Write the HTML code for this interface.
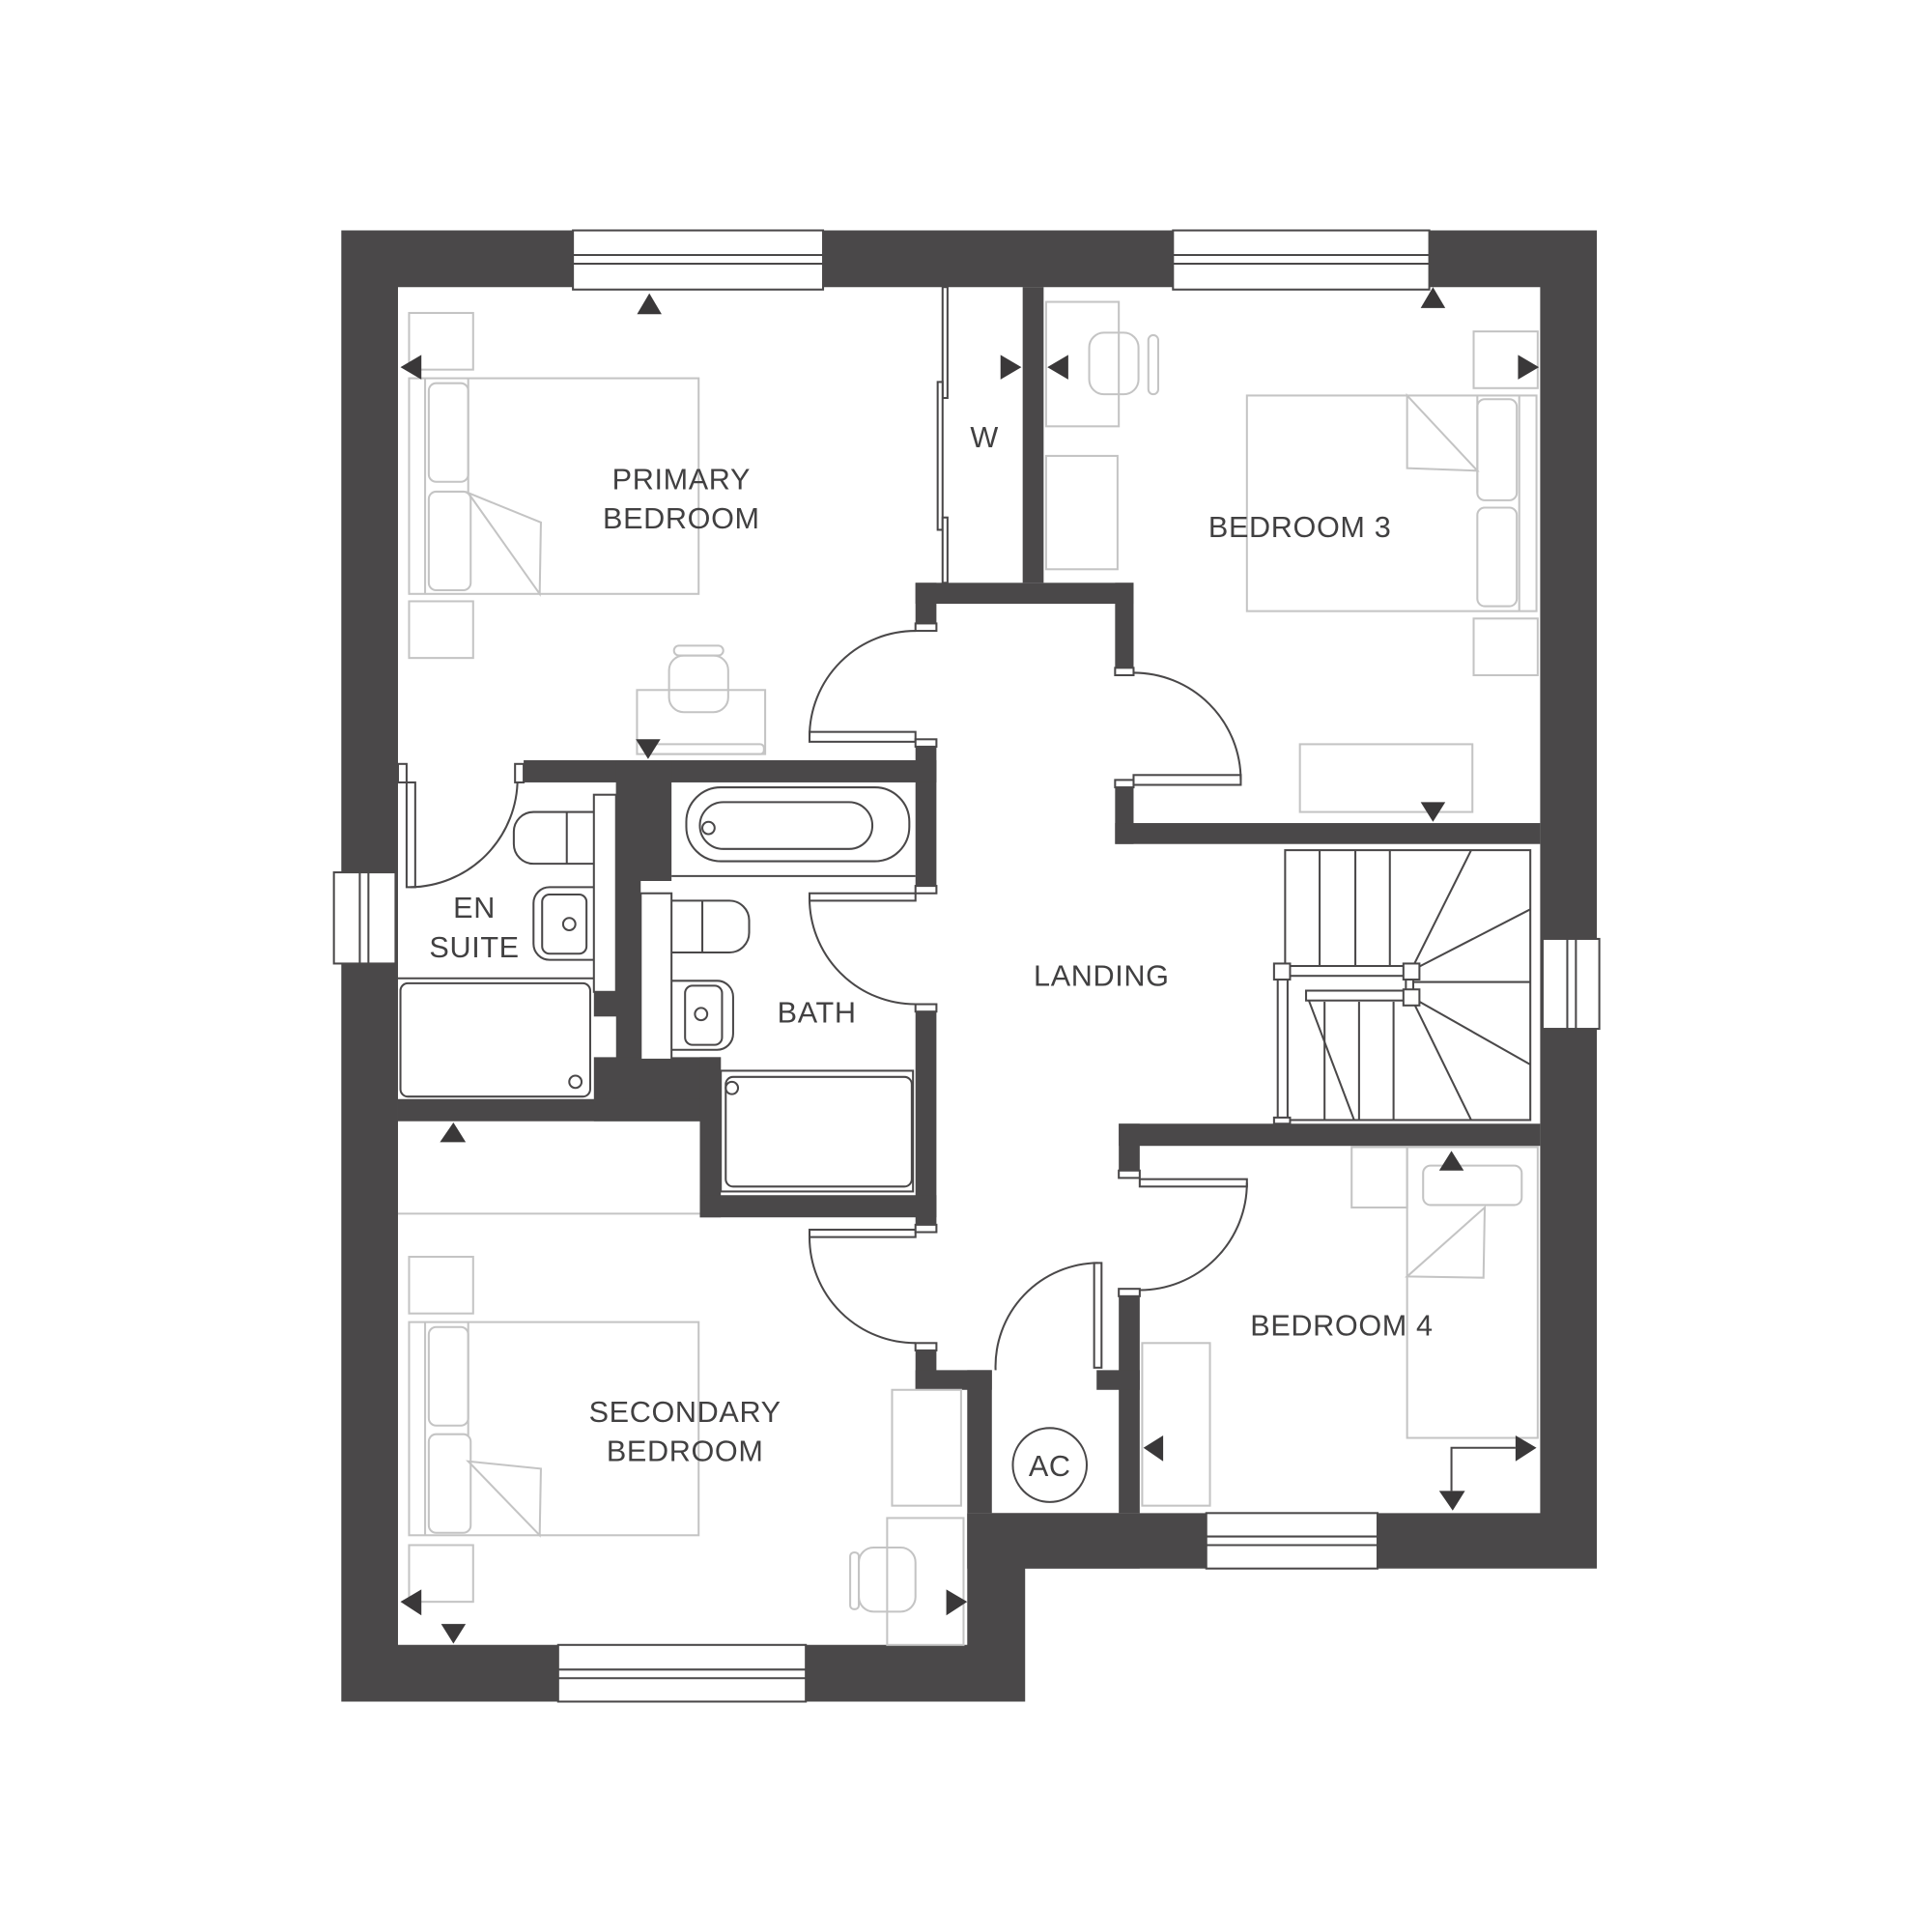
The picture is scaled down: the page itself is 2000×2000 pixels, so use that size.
<!DOCTYPE html>
<html><head><meta charset="utf-8"><style>
html,body{margin:0;padding:0;background:#fff}
svg{display:block}
text{font-family:"Liberation Sans",sans-serif;font-size:24px;fill:#414041;text-anchor:middle;letter-spacing:0.5px}
.f{fill:none;stroke:#c4c4c4;stroke-width:1.6}
.d{fill:#fff;stroke:#4a4849;stroke-width:1.6}
.l{fill:none;stroke:#4a4849;stroke-width:1.6}
.w{fill:#4a4849}
.t{fill:#3a3839}
</style></head><body>
<svg width="2000" height="2000" viewBox="0 0 1568 1568" xmlns="http://www.w3.org/2000/svg">
<!-- outer walls -->
<path class="w" fill-rule="evenodd" d="M277,187H1296V1273H832V1381H277Z M323,233H1250V1228H785V1335H323Z"/>
<!-- interior walls -->
<g class="w">
<rect x="830" y="233" width="17" height="240"/>
<rect x="743" y="473" width="177" height="17"/>
<rect x="743" y="473" width="17" height="39"/>
<rect x="743" y="600" width="17" height="125"/>
<rect x="743" y="815" width="17" height="185"/>
<rect x="743" y="1090" width="17" height="38"/>
<rect x="743" y="1112" width="62" height="16"/>
<rect x="905" y="473" width="15" height="72"/>
<rect x="905" y="635" width="15" height="50"/>
<rect x="905" y="668" width="345" height="17"/>
<rect x="908" y="912" width="342" height="18"/>
<rect x="908" y="912" width="17" height="43"/>
<rect x="908" y="1048" width="17" height="180"/>
<rect x="890" y="1112" width="35" height="16"/>
<rect x="785" y="1112" width="20" height="116"/>
<rect x="785" y="1228" width="140" height="45"/>
<rect x="425" y="617" width="335" height="18"/>
<rect x="500" y="617" width="45" height="98"/>
<rect x="500" y="617" width="20" height="243"/>
<rect x="482" y="800" width="20" height="25"/>
<rect x="482" y="858" width="103" height="52"/>
<rect x="323" y="892" width="260" height="18"/>
<rect x="568" y="858" width="17" height="130"/>
<rect x="568" y="970" width="192" height="18"/>
</g>
<!-- shelves -->
<rect class="d" x="482" y="645" width="18" height="160"/>
<rect class="d" x="520" y="725" width="25" height="135"/>
<!-- windows -->
<g class="d">
<rect x="465" y="187" width="203" height="48"/><line x1="465" y1="207" x2="668" y2="207"/><line x1="465" y1="214" x2="668" y2="214"/>
<rect x="952" y="187" width="208" height="48"/><line x1="952" y1="207" x2="1160" y2="207"/><line x1="952" y1="214" x2="1160" y2="214"/>
<rect x="453" y="1335" width="201" height="46"/><line x1="453" y1="1355" x2="654" y2="1355"/><line x1="453" y1="1362" x2="654" y2="1362"/>
<rect x="979" y="1228" width="139" height="45"/><line x1="979" y1="1247" x2="1118" y2="1247"/><line x1="979" y1="1254" x2="1118" y2="1254"/>
<rect x="271" y="708" width="50" height="74"/><line x1="292" y1="708" x2="292" y2="782"/><line x1="299" y1="708" x2="299" y2="782"/>
<rect x="1252" y="762" width="46" height="73"/><line x1="1272" y1="762" x2="1272" y2="835"/><line x1="1279" y1="762" x2="1279" y2="835"/>
</g>
<!-- wardrobe doors -->
<rect class="d" x="765" y="233" width="4" height="90"/><rect class="d" x="761" y="310" width="4" height="120"/><rect class="d" x="765" y="420" width="4" height="53"/>
<!-- doors -->
<g>
<rect class="d" x="657" y="594" width="86" height="8"/><path class="l" d="M657,598 A86,86 0 0 1 743,512"/>
<rect class="d" x="743" y="506" width="17" height="6"/><rect class="d" x="743" y="600" width="17" height="6"/>
<rect class="d" x="920" y="629" width="87" height="8"/><path class="l" d="M1007,633 A87,87 0 0 0 920,546"/>
<rect class="d" x="905" y="542" width="15" height="6"/><rect class="d" x="905" y="633" width="15" height="6"/>
<rect class="d" x="657" y="725" width="86" height="6"/><path class="l" d="M657,728 A86,86 0 0 0 743,815"/>
<rect class="d" x="743" y="719" width="17" height="6"/><rect class="d" x="743" y="815" width="17" height="6"/>
<rect class="d" x="657" y="998" width="86" height="6"/><path class="l" d="M657,1004 A86,86 0 0 0 743,1090"/>
<rect class="d" x="743" y="994" width="17" height="6"/><rect class="d" x="743" y="1090" width="17" height="6"/>
<rect class="d" x="925" y="957" width="87" height="6"/><path class="l" d="M1012,960 A87,87 0 0 1 925,1047"/>
<rect class="d" x="908" y="950" width="17" height="6"/><rect class="d" x="908" y="1046" width="17" height="6"/>
<rect class="d" x="888" y="1025" width="6" height="85"/><path class="l" d="M808,1112 A84,84 0 0 1 891,1025"/>
<rect class="d" x="330" y="635" width="7" height="85"/><path class="l" d="M333,720 A88,88 0 0 0 420,632"/>
<rect class="d" x="323" y="620" width="7" height="15"/><rect class="d" x="418" y="620" width="7" height="15"/>
</g>
<!-- stairs -->
<g class="l">
<rect x="1043" y="690" width="199" height="219"/>
<line x1="1071" y1="690" x2="1071" y2="788"/><line x1="1100" y1="690" x2="1100" y2="788"/><line x1="1128" y1="690" x2="1128" y2="788"/>
<line x1="1145" y1="788" x2="1194" y2="690"/><line x1="1145" y1="788" x2="1242" y2="738"/><line x1="1145" y1="797" x2="1242" y2="797"/>
<line x1="1145" y1="809" x2="1242" y2="864"/><line x1="1145" y1="809" x2="1194" y2="909"/>
<line x1="1075" y1="813" x2="1075" y2="909"/><line x1="1103" y1="813" x2="1103" y2="909"/><line x1="1131" y1="813" x2="1131" y2="909"/>
<line x1="1060" y1="806" x2="1099" y2="909"/>
</g>
<rect class="d" x="1037" y="788" width="8" height="125"/>
<rect class="d" x="1041" y="784" width="104" height="8"/>
<rect class="d" x="1060" y="804" width="85" height="8"/>
<rect class="d" x="1141" y="790" width="6" height="18"/>
<rect class="d" x="1034" y="782" width="13" height="13"/>
<rect class="d" x="1139" y="782" width="13" height="13"/>
<rect class="d" x="1139" y="803" width="13" height="13"/>
<rect class="d" x="1034" y="907" width="13" height="5"/>
<!-- bathroom fixtures -->
<g class="l">
<rect x="557" y="639" width="181" height="60" rx="28"/><rect x="568" y="651" width="140" height="38" rx="19"/><circle cx="575" cy="672" r="5"/>
<line x1="545" y1="711" x2="743" y2="711"/>
<path d="M545,731 H592 A16,16 0 0 1 608,747 V757 A16,16 0 0 1 592,773 H545"/><line x1="570" y1="731" x2="570" y2="773"/>
<path d="M545,796 H582 A13,13 0 0 1 595,809 V839 A13,13 0 0 1 582,852 H545"/><rect x="556" y="800" width="30" height="48" rx="6"/><circle cx="569" cy="823" r="5"/>
<rect x="585" y="869" width="156" height="98"/><rect x="589" y="874" width="151" height="89" rx="6"/><circle cx="594" cy="883" r="5"/>
<path d="M482,659 H433 A16,16 0 0 0 417,675 V685 A16,16 0 0 0 433,701 H482"/><line x1="460" y1="659" x2="460" y2="701"/>
<path d="M482,720 H446 A13,13 0 0 0 433,733 V766 A13,13 0 0 0 446,779 H482"/><rect x="440" y="726" width="36" height="48" rx="6"/><circle cx="462" cy="750" r="5"/>
<line x1="323" y1="794" x2="482" y2="794"/>
<rect x="325" y="798" width="154" height="92" rx="6"/><circle cx="467" cy="878" r="5"/>
</g>
<!-- furniture gray -->
<g class="f">
<rect x="332" y="254" width="52" height="46"/><rect x="332" y="488" width="52" height="46"/>
<rect x="332" y="307" width="235" height="175"/><line x1="345" y1="307" x2="345" y2="482"/>
<rect x="348" y="311" width="32" height="80" rx="6"/><rect x="348" y="399" width="34" height="80" rx="6"/>
<line x1="380" y1="307" x2="380" y2="400"/><path d="M380,400 L439,424 L438,482 Z"/>
<rect x="517" y="560" width="104" height="52"/>
<rect x="543" y="532" width="48" height="46" rx="12"/><rect x="547" y="524" width="40" height="8" rx="4"/>
<rect x="525" y="604" width="95" height="8" rx="3"/>
<rect x="849" y="245" width="59" height="101"/><rect x="849" y="370" width="58" height="92"/>
<rect x="884" y="270" width="40" height="50" rx="12"/><rect x="932" y="272" width="8" height="48" rx="4"/>
<rect x="1196" y="269" width="52" height="46"/><rect x="1196" y="502" width="52" height="46"/>
<rect x="1012" y="321" width="235" height="175"/><line x1="1233" y1="321" x2="1233" y2="496"/>
<rect x="1199" y="324" width="32" height="82" rx="6"/><rect x="1199" y="412" width="32" height="80" rx="6"/>
<line x1="1199" y1="321" x2="1199" y2="400"/><path d="M1142,321 L1199,382 L1142,380 Z"/>
<rect x="1055" y="604" width="140" height="55"/>
<rect x="1097" y="931" width="45" height="49"/><rect x="1142" y="931" width="106" height="236"/>
<rect x="1155" y="946" width="80" height="32" rx="6"/><path d="M1142,1036 L1205,980 L1204,1037 Z"/>
<rect x="927" y="1090" width="55" height="132"/>
<rect x="332" y="1020" width="52" height="46"/><rect x="332" y="1254" width="52" height="46"/>
<rect x="332" y="1073" width="235" height="173"/><line x1="345" y1="1073" x2="345" y2="1246"/>
<rect x="348" y="1077" width="32" height="80" rx="6"/><rect x="348" y="1164" width="34" height="80" rx="6"/>
<line x1="380" y1="1073" x2="380" y2="1165"/><path d="M380,1186 L439,1192 L438,1246 Z"/>
<line x1="323" y1="985" x2="568" y2="985"/>
<rect x="724" y="1128" width="56" height="94"/><rect x="720" y="1232" width="62" height="103"/>
<rect x="697" y="1256" width="46" height="52" rx="12"/><rect x="690" y="1260" width="7" height="46" rx="3"/>
</g>
<!-- AC -->
<circle cx="852" cy="1189" r="30" class="l"/>
<!-- arrows -->
<g class="t">
<path d="M517,255 L537,255 L527,238Z"/>
<path d="M342,288 L342,308 L325,298Z"/>
<path d="M812,288 L812,308 L829,298Z"/>
<path d="M867,288 L867,308 L850,298Z"/>
<path d="M1153,250 L1173,250 L1163,233Z"/>
<path d="M1232,288 L1232,308 L1249,298Z"/>
<path d="M1153,651 L1173,651 L1163,667Z"/>
<path d="M516,600 L536,600 L526,616Z"/>
<path d="M357,927 L378,927 L368,911Z"/>
<path d="M1168,950 L1188,950 L1178,934Z"/>
<path d="M944,1165 L944,1186 L928,1175Z"/>
<path d="M1230,1165 L1230,1186 L1247,1175Z"/>
<path d="M1168,1210 L1189,1210 L1179,1226Z"/>
<path d="M342,1290 L342,1311 L325,1300Z"/>
<path d="M358,1318 L378,1318 L368,1334Z"/>
<path d="M768,1290 L768,1311 L785,1300Z"/>
</g>
<path class="l" d="M1230,1175 H1178 V1210"/>
<!-- labels -->
<text x="553" y="397">PRIMARY</text><text x="553" y="429">BEDROOM</text>
<text x="799" y="363">W</text>
<text x="1055" y="436">BEDROOM 3</text>
<text x="385" y="745">EN</text><text x="385" y="777">SUITE</text>
<text x="663" y="830">BATH</text>
<text x="894" y="800">LANDING</text>
<text x="1089" y="1084">BEDROOM 4</text>
<text x="556" y="1154">SECONDARY</text><text x="556" y="1186">BEDROOM</text>
<text x="852" y="1198">AC</text>
</svg>
</body></html>
